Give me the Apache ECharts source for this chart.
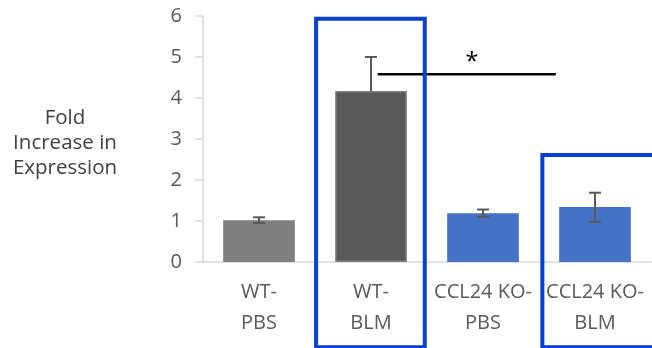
<!DOCTYPE html>
<html>
<head>
<meta charset="utf-8">
<script src="https://cdn.jsdelivr.net/npm/echarts@6/dist/echarts.min.js"></script>
<style>
  html, body { margin: 0; padding: 0; background: #fff; }
  #chart { width: 652px; height: 348px; }
</style>
</head>
<body>
<div id="chart"></div>
<script>
// Groups and measured fold change with error (SEM)
const categories = ['WT-\nPBS', 'WT-\nBLM', 'CCL24 KO-\nPBS', 'CCL24 KO-\nBLM'];
const foldValues = [1.02, 4.17, 1.19, 1.34];
const errUpper = [0.07, 0.83, 0.09, 0.35];
const errLower = [0.07, 0.0, 0.09, 0.36];
const barColors = ['#7f7f7f', '#595959', '#4472c4', '#4472c4'];
const yTicks = [0, 1, 2, 3, 4, 5, 6];

// Significance bracket: [start category + offset, end category + offset, level]
const sigBracket = [1.06, 2.65, 4.58];
const sigLabel = '*';

// Highlight boxes: [category centre, left offset, right offset, top value, bottom value]
const highlightBoxes = [
  [1, -0.49, 0.48, 5.93, -2.08],
  [3, -0.47, 0.53, 2.61, -2.08]
];

const chart = echarts.init(document.getElementById('chart'), null, { renderer: 'canvas' });
const FONT = '"Open Sans", "Noto Sans", sans-serif';

const option = {
  animation: false,
  grid: { left: 203, right: 1, top: 16, bottom: 86, containLabel: false },
  xAxis: {
    type: 'category',
    data: categories,
    axisLine: { lineStyle: { color: '#d9d9d9', width: 1.5 } },
    axisTick: { show: false },
    axisLabel: {
      color: '#595959', fontFamily: FONT, fontSize: 20, lineHeight: 31,
      margin: 15, interval: 0
    }
  },
  yAxis: {
    type: 'value', min: yTicks[0], max: yTicks[yTicks.length - 1], interval: 1,
    splitLine: { show: false },
    axisLine: { show: true, lineStyle: { color: '#d9d9d9', width: 1.5 } },
    axisTick: { show: true, length: 8, lineStyle: { color: '#d9d9d9', width: 1.5 } },
    axisLabel: { color: '#595959', fontFamily: FONT, fontSize: 20, margin: 21 }
  },
  graphic: [{
    type: 'text',
    x: 65, y: 106,
    style: {
      text: 'Fold\nIncrease in\nExpression', fill: '#404040',
      font: '20.5px ' + FONT, lineHeight: 25, align: 'center'
    }
  }],
  series: [
    {
      type: 'bar',
      data: foldValues.map((v, i) => ({
        value: v,
        itemStyle: {
          color: barColors[i],
          borderColor: i === 1 ? '#7f7f7f' : barColors[i],
          borderWidth: i === 1 ? 1.5 : 0
        }
      })),
      barWidth: '64%',
      z: 2
    },
    {
      // error bars
      type: 'custom',
      data: foldValues.map((v, i) => [i, v - errLower[i], v + errUpper[i]]),
      z: 3,
      renderItem: function (params, api) {
        const lo = api.coord([api.value(0), api.value(1)]);
        const hi = api.coord([api.value(0), api.value(2)]);
        const cap = 6;
        const style = { stroke: '#595959', lineWidth: 2 };
        const children = [
          { type: 'line', shape: { x1: hi[0], y1: hi[1], x2: lo[0], y2: lo[1] }, style },
          { type: 'line', shape: { x1: hi[0] - cap, y1: hi[1], x2: hi[0] + cap, y2: hi[1] }, style }
        ];
        if (errLower[params.dataIndex] > 0) {
          children.push({ type: 'line', shape: { x1: lo[0] - cap, y1: lo[1], x2: lo[0] + cap, y2: lo[1] }, style });
        }
        return { type: 'group', children };
      }
    },
    {
      // significance bracket
      type: 'custom',
      data: [sigBracket],
      z: 4,
      renderItem: function (params, api) {
        const band = api.size([1, 0])[0];
        const i0 = Math.floor(sigBracket[0]), i1 = Math.floor(sigBracket[1]);
        const p0 = api.coord([i0, sigBracket[2]]);
        const p1 = api.coord([i1, sigBracket[2]]);
        const x1 = p0[0] + (sigBracket[0] - i0) * band;
        const x2 = p1[0] + (sigBracket[1] - i1) * band;
        return {
          type: 'group',
          children: [
            { type: 'line', shape: { x1, y1: p0[1], x2, y2: p0[1] }, style: { stroke: '#000', lineWidth: 2.5 } },
            { type: 'text', x: (x1 + x2) / 2 + 5, y: p0[1] - 24,
              style: { text: sigLabel, fill: '#000', font: '24px ' + FONT, align: 'center', verticalAlign: 'top' } }
          ]
        };
      }
    },
    {
      // highlight boxes
      type: 'custom',
      data: highlightBoxes,
      z: 5,
      clip: false,
      renderItem: function (params, api) {
        const b = highlightBoxes[params.dataIndex];
        const band = api.size([1, 0])[0];
        const top = api.coord([b[0], b[3]]);
        const bot = api.coord([b[0], b[4]]);
        const xl = top[0] + b[1] * band;
        const xr = top[0] + b[2] * band;
        return {
          type: 'rect',
          shape: { x: xl, y: top[1], width: xr - xl, height: bot[1] - top[1] },
          style: { fill: null, stroke: '#0a3fd0', lineWidth: 4 }
        };
      }
    }
  ]
};
chart.setOption(option);
</script>
</body>
</html>
